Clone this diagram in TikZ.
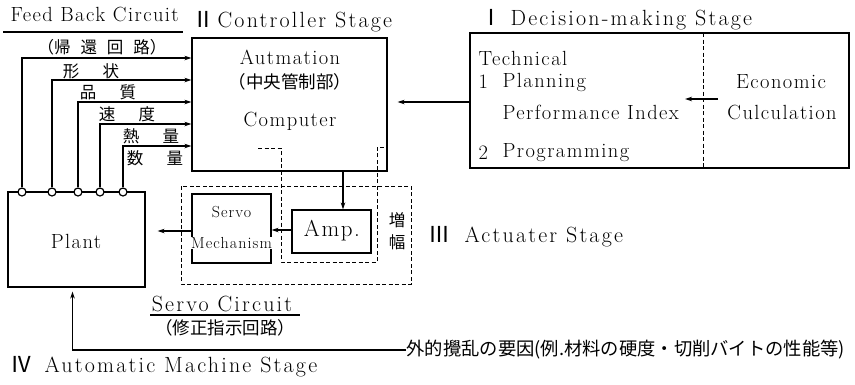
\documentclass[tikz,border=0pt]{standalone}
\usepackage{fontspec}
\setmainfont{Latin Modern Roman}[LetterSpace=7]
\newfontfamily\widelm{Latin Modern Roman}[LetterSpace=10]
\newfontfamily\jp{Noto Sans CJK JP}
\usetikzlibrary{arrows.meta}

\begin{document}
\begin{tikzpicture}[x=1pt,y=-1pt,line width=1.2pt,
  >={Stealth[length=7pt,width=4.5pt]},
  box/.style={draw,rectangle,inner sep=0pt},
  dashbox/.style={draw,line width=1pt,dash pattern=on 4pt off 2.5pt},
  tap/.style={draw,circle,fill=white,minimum size=8pt,inner sep=0pt},
  title/.style={font=\fontsize{22}{24}\widelm,inner sep=0pt},
  en/.style={font=\fontsize{20.5}{23}\selectfont,inner sep=0pt},
  ensmall/.style={font=\fontsize{16}{18}\selectfont,inner sep=0pt},
  ja/.style={font=\fontsize{16.5}{18}\jp,inner sep=0pt}]
\useasboundingbox (0,0) rectangle (855,384);

% stage titles
\node[en,anchor=base west] (fbt) at (10,21) {Feed Back Circuit};
\draw (3,32) -- (183,32);
\node[ja] (fbtj) at (102,47) {（帰\hspace{0.6em}還\hspace{0.6em}回\hspace{0.6em}路）};
\node[title,anchor=base west] (ctrlt) at (192,27) {{\jp Ⅱ}\hspace{3pt}Controller Stage};
\node[title,anchor=base west] (dect) at (480,25) {{\jp Ⅰ}\hspace{8pt}Decision-making Stage};
\node[title,anchor=west] (actt) at (428,237) {{\jp Ⅲ}\hspace{14pt}Actuater Stage};
\node[title,anchor=west] (autot) at (10,367) {{\jp Ⅳ}\hspace{12pt}Automatic Machine Stage};

% controller
\node[box,minimum width=195pt,minimum height=133pt] (ctrl) at (289.5,104.5) {};
\node[en] (autm) at (290,57) {Autmation};
\node[ja,font=\fontsize{17.5}{19}\jp] (autmj) at (290,82) {（中央管制部）};
\node[en] (comp) at (290,121) {Computer};

% decision-making
\node[box,minimum width=379pt,minimum height=135pt] (dec) at (659.5,100.5) {};
\draw[dash pattern=on 4pt off 2.5pt,line width=0.8pt] (703,33) -- (703,168);
\node[en,anchor=west] (tech) at (478,58) {Technical};
\node[en,anchor=west] (one) at (478,82) {1};
\node[en,anchor=west] (plan) at (502,82) {Planning};
\node[en,anchor=west] (perf) at (502,112) {Performance Index};
\node[en,anchor=west] (two) at (478,153) {2};
\node[en,anchor=west] (prog) at (502,153) {Programming};
\node[en] (econ) at (781,82) {Economic};
\node[en] (culc) at (782,112) {Culculation};
\coordinate (econout) at (718,99);
\coordinate (perfin) at (685,99);
\draw[->] (econout) -- (perfin);
\draw[->,shorten >=10pt] (dec.west |- 0,102) -- (ctrl.east |- 0,102);

% plant and feedback
\node[box,minimum width=137pt,minimum height=95pt] (plant) at (76.5,239.5) {};
\node[en] (plantt) at (76,241) {Plant};
\foreach \i/\x/\y in {1/22/58,2/52/80,3/78/102,4/100/124,5/123/146} {
  \node[tap] (tap\i) at (\x,192) {};
  \draw[->] (tap\i) |- (ctrl.west |- 0,\y);
}
\node[ja] (shape) at (91,71) {形\hspace{1.4em}状};
\node[ja] (qual) at (108,92) {品\hspace{1.4em}質};
\node[ja] (speed) at (127,114) {速\hspace{1.4em}度};
\node[ja] (heat) at (151,136) {熱\hspace{1.4em}量};
\node[ja] (count) at (155,158) {数\hspace{1.4em}量};

% actuater
\draw[dashbox] (181,186) rectangle (411,284);
\draw[dashbox] (258,148) -- (281,148) -- (281,262) -- (377,262) -- (377,147) -- (387,147);
\node[box,minimum width=79pt,minimum height=69pt] (servo) at (231.5,228.5) {};
\node[ensmall] (servot) at (231.5,212) {Servo};
\node[ensmall,fill=white] (mech) at (231.5,243) {Mechanism};
\node[box,minimum width=79pt,minimum height=43pt] (amp) at (331.5,231.5) {};
\node[en,font=\fontsize{23}{25}\selectfont] (ampt) at (332,231) {Amp.};
\node[ja] (zou) at (397,220) {増};
\node[ja] (fuku) at (397,242) {幅};
\draw[->] (ctrl.south -| 343,0) -- (amp.north -| 343,0);
\draw[->] (amp.west |- 0,230) -- (servo.east |- 0,230);
\draw[->,shorten >=12pt] (servo.west |- 0,231) -- (plant.east |- 0,231);

% servo circuit and disturbance
\node[title] (sct) at (222,304) {Servo Circuit};
\draw (150,315) -- (300,315);
\node[ja,font=\fontsize{17.5}{19}\jp] (sctj) at (225,328) {（修正指示回路）};
\node[ja,font=\fontsize{18.3}{20}\jp,anchor=west] (dist) at (406,350) {外的攪乱の要因(例.材料の硬度・切削バイトの性能等)};
\draw[->,shorten >=4pt] (dist.west) -| ([xshift=-4pt]plant.south);
\end{tikzpicture}
\end{document}
